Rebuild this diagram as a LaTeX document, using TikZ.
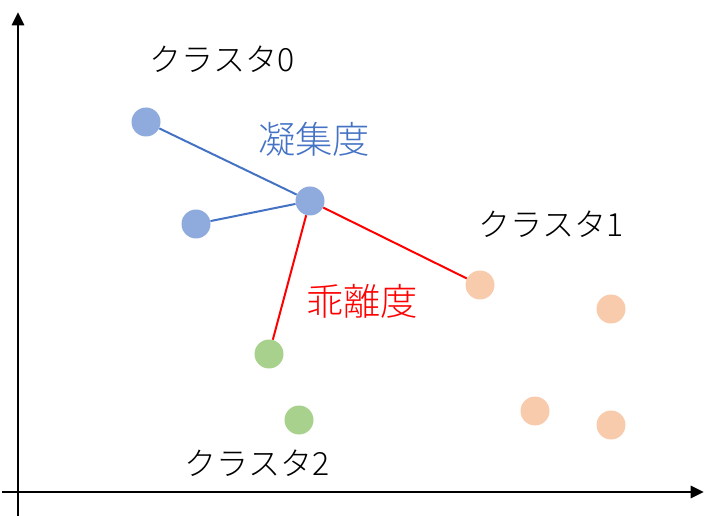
\documentclass[tikz,border=0pt]{standalone}
\usepackage{fontspec}
\newfontfamily\jp{Noto Sans CJK JP Light}
\usetikzlibrary{arrows.meta}
\definecolor{ptblue}{HTML}{8FAADC}
\definecolor{lnblue}{HTML}{4472C4}
\definecolor{ptorange}{HTML}{F8CBAD}
\definecolor{ptgreen}{HTML}{A9D18E}
\definecolor{lnred}{HTML}{FF0000}
\tikzset{
  pt/.style={circle,inner sep=0pt,minimum size=29*0.75pt,draw=none},
  blue pt/.style={pt,fill=ptblue},
  orange pt/.style={pt,fill=ptorange},
  green pt/.style={pt,fill=ptgreen},
  axis/.style={line width=2.2pt,-{Triangle[length=10pt,width=9pt]}},
  cohesion/.style={draw=lnblue,line width=1.5pt},
  separation/.style={draw=lnred,line width=1.5pt},
  kana/.style={font=\jp\fontsize{24}{28}\selectfont,inner sep=0pt,text=black},
  kanji/.style={font=\jp\fontsize{28}{32}\selectfont,inner sep=0pt},
}
\begin{document}
\begin{tikzpicture}[x=0.75pt,y=-0.75pt]
\useasboundingbox (0,0) rectangle (717,516);
% axes
\coordinate (ybot) at (18,516);
\coordinate (ytop) at (18,12);
\coordinate (xleft) at (2,492);
\coordinate (xright) at (704,492);
\draw[axis] (ybot) -- (ytop);
\draw[axis] (xleft) -- (xright);
% points
\node[blue pt] (b1) at (146,122) {};
\node[blue pt] (b2) at (196,224) {};
\node[blue pt] (b3) at (310,201) {};
\node[orange pt] (o1) at (480,285) {};
\node[orange pt] (o2) at (611,309) {};
\node[orange pt] (o3) at (535,411) {};
\node[orange pt] (o4) at (611,425) {};
\node[green pt] (g1) at (269,354) {};
\node[green pt] (g2) at (299,420) {};
% connectors
\draw[cohesion] (b1) -- (b3);
\draw[cohesion] (b2) -- (b3);
\draw[separation] (b3) -- (o1);
\draw[separation] (b3) -- (g1);
% labels
\node[kana] (c0) at (222,59) {クラスタ0};
\node[kana] (c1) at (551,224) {クラスタ1};
\node[kana] (c2) at (257,463) {クラスタ2};
\node[kanji,text=lnblue] (coh) at (314,139) {凝集度};
\node[kanji,text=lnred] (sep) at (362,301) {乖離度};
\end{tikzpicture}
\end{document}
